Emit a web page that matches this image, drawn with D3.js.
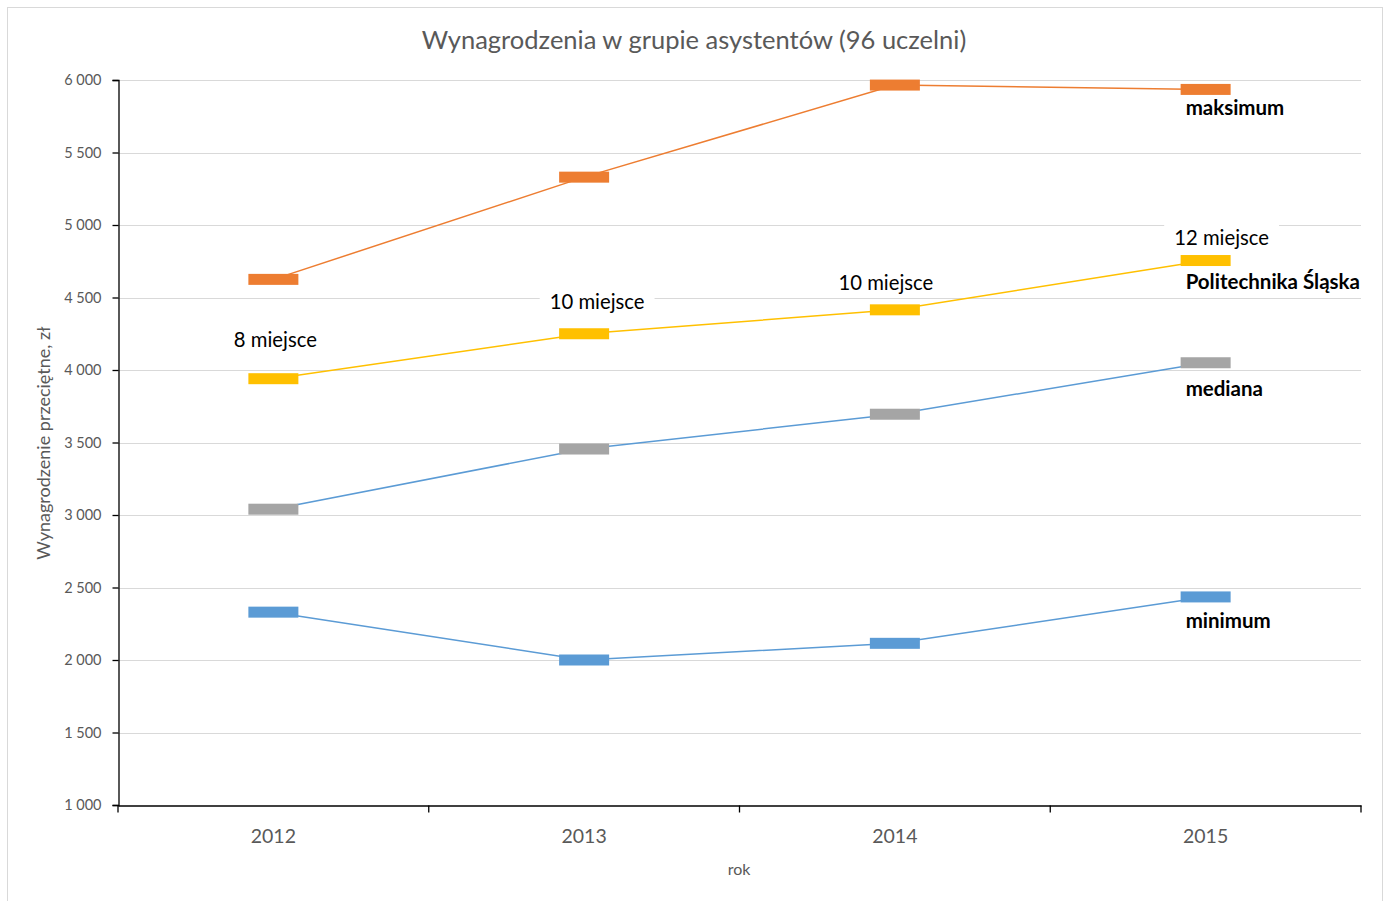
<!DOCTYPE html>
<html>
<head>
<meta charset="utf-8">
<script src="https://cdnjs.cloudflare.com/ajax/libs/d3/7.8.5/d3.min.js"></script>
<style>
  html, body { margin: 0; padding: 0; background: #fff; }
  svg { display: block; }
  text { font-family: Lato, "Open Sans", sans-serif; }
</style>
</head>
<body>
<svg id="chart" width="1387" height="901"></svg>
<script>
// ---------- data ----------
const years = ["2012", "2013", "2014", "2015"];
const maksimum = [4625, 5330, 5965, 5935];
const politechnika = [3940, 4250, 4415, 4755];
const mediana = [3040, 3455, 3695, 4050];
const minimum = [2330, 2000, 2115, 2435];
const rankLabels = ["8 miejsce", "10 miejsce", "10 miejsce", "12 miejsce"];
const seriesNames = ["maksimum", "Politechnika Śląska", "mediana", "minimum"];
const yTicks = [1000, 1500, 2000, 2500, 3000, 3500, 4000, 4500, 5000, 5500, 6000];
const title = "Wynagrodzenia w grupie asystentów (96 uczelni)";
const yTitle = "Wynagrodzenie przeciętne, zł";
const xTitle = "rok";

// ---------- layout / style ----------
const rankOffsets = [[2, -39], [13, -32], [-9, -27], [16, -23]];
const series = [
  { name: seriesNames[0], values: maksimum, line: "#ED7D31", marker: "#ED7D31", dy: 18 },
  { name: seriesNames[1], values: politechnika, line: "#FFC000", marker: "#FFC000", dy: 21 },
  { name: seriesNames[2], values: mediana, line: "#5B9BD5", marker: "#A5A5A5", dy: 26 },
  { name: seriesNames[3], values: minimum, line: "#5B9BD5", marker: "#5B9BD5", dy: 24 }
];

const svg = d3.select("#chart");
const mLeft = 118, mRight = 1361, mTop = 80, mBottom = 805;

// chart frame
svg.append("rect").attr("x", 7.5).attr("y", 7.5).attr("width", 1375).attr("height", 900)
  .attr("fill", "#fff").attr("stroke", "#d9d9d9").attr("stroke-width", 1);

const x = d3.scaleBand().domain(years).range([mLeft, mRight]).padding(0);
const y = d3.scaleLinear().domain([1000, 6000]).range([mBottom, mTop]);
const cx = d => x(d) + x.bandwidth() / 2;

const fmt = d3.formatLocale({ decimal: ",", thousands: "\u00a0", grouping: [3], currency: ["", ""] }).format(",d");

// gridlines
svg.append("g").selectAll("line").data(yTicks.filter(t => t > 1000)).join("line")
  .attr("x1", mLeft).attr("x2", mRight)
  .attr("y1", d => Math.round(y(d)) + 0.5).attr("y2", d => Math.round(y(d)) + 0.5)
  .attr("stroke", "#d9d9d9").attr("stroke-width", 1);

// y axis
const yAxis = svg.append("g").attr("transform", `translate(${mLeft + 0.5},0)`)
  .call(d3.axisLeft(y).tickValues(yTicks).tickFormat(fmt).tickSize(6).tickPadding(11));
yAxis.select(".domain").attr("stroke", "#000").attr("stroke-width", 1.3);
yAxis.selectAll(".tick line").attr("stroke", "#000").attr("stroke-width", 1.3);
yAxis.selectAll(".tick text").attr("fill", "#595959").style("font-size", "14.5px")
  .style("font-family", "Lato, sans-serif");

// x axis
const xAxis = svg.append("g").attr("transform", `translate(0,${mBottom + 0.5})`)
  .call(d3.axisBottom(x).tickSize(0).tickPadding(24));
xAxis.select(".domain").attr("stroke", "#000").attr("stroke-width", 1.3);
xAxis.selectAll(".tick text").attr("fill", "#595959").style("font-size", "19.5px")
  .style("font-family", "Lato, sans-serif");
const bounds = years.map(d => x(d)).concat([x(years[years.length - 1]) + x.bandwidth()]);
xAxis.selectAll(".bound").data(bounds).join("line").attr("class", "bound")
  .attr("x1", d => d).attr("x2", d => d).attr("y1", 0).attr("y2", 7)
  .attr("stroke", "#000").attr("stroke-width", 1.3);

// title
svg.append("text").attr("x", 694).attr("y", 49).attr("text-anchor", "middle")
  .attr("fill", "#595959").style("font-size", "25.5px").text(title);

// axis titles
svg.append("text").attr("transform", "translate(50,443) rotate(-90)").attr("text-anchor", "middle")
  .attr("fill", "#595959").style("font-size", "18px").text(yTitle);
svg.append("text").attr("x", 739).attr("y", 875).attr("text-anchor", "middle")
  .attr("fill", "#595959").style("font-size", "16px").text(xTitle);

// lines
const lineGen = d3.line().x(d => cx(d[0])).y(d => y(d[1]));
series.forEach(s => {
  svg.append("path").datum(years.map((yr, i) => [yr, s.values[i]]))
    .attr("d", lineGen).attr("fill", "none").attr("stroke", s.line).attr("stroke-width", 1.5);
});

// markers
const mw = 50, mh = 11;
series.forEach(s => {
  svg.append("g").selectAll("rect").data(years.map((yr, i) => [yr, s.values[i]])).join("rect")
    .attr("x", d => cx(d[0]) - mw / 2).attr("y", d => y(d[1]) - mh / 2)
    .attr("width", mw).attr("height", mh).attr("fill", s.marker);
});

// rank labels (with white background)
rankLabels.forEach((lab, i) => {
  const g = svg.append("g")
    .attr("transform", `translate(${cx(years[i]) + rankOffsets[i][0]},${y(politechnika[i]) + rankOffsets[i][1]})`);
  const t = g.append("text").attr("text-anchor", "middle").attr("dy", "0.35em")
    .attr("fill", "#000").style("font-size", "20.3px").text(lab);
  const bb = t.node().getBBox();
  g.insert("rect", "text").attr("x", bb.x - 10).attr("y", bb.y - 3)
    .attr("width", bb.width + 20).attr("height", bb.height + 6).attr("fill", "#fff");
});

// series name labels at last year
const last = years.length - 1;
series.forEach(s => {
  svg.append("text").attr("x", cx(years[last]) - 20).attr("y", y(s.values[last]) + s.dy)
    .attr("dy", "0.35em").attr("fill", "#000").style("font-size", "20.5px").style("font-weight", "700")
    .text(s.name);
});
</script>
</body>
</html>
